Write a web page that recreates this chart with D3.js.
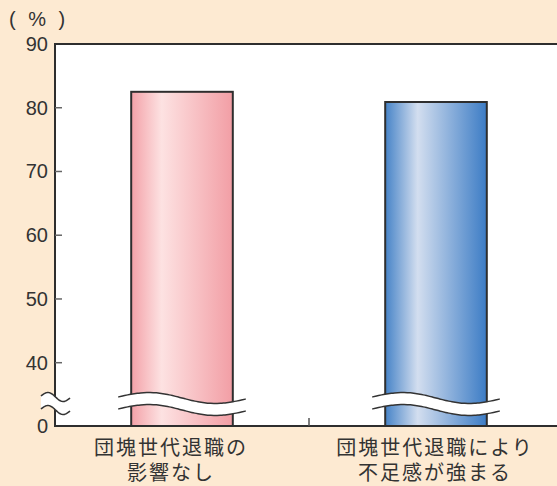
<!DOCTYPE html>
<html>
<head>
<meta charset="utf-8">
<script src="https://cdn.jsdelivr.net/npm/d3@7"></script>
<style>
  html, body { margin: 0; padding: 0; background: #fdead2; }
  svg { display: block; }
  text { font-family: "Liberation Sans", "Noto Sans CJK JP", sans-serif; fill: #333; }
  .cat { font-family: "Noto Sans CJK JP", sans-serif; }
</style>
</head>
<body>
<svg id="chart" width="557" height="486"></svg>
<script>
// Survey results (%), with an axis break between 0 and 40
const categories = ["団塊世代退職の\n影響なし", "団塊世代退職により\n不足感が強まる"];
const values = [82.5, 80.9];
const tickValues = [0, 40, 50, 60, 70, 80, 90];
const unitLabel = "( % )";

const svg = d3.select("#chart");
const W = 557, H = 486;
const plotLeft = 55, plotRight = 563, plotTop = 44, plotBottom = 426;

// Piecewise scale: 0 sits just below the break, 40–90 spread over the rest
const y = d3.scaleLinear().domain([0, 40, 90]).range([plotBottom, 362.7, plotTop]);
const x = d3.scaleBand().domain(d3.range(categories.length)).range([plotLeft, plotRight]).padding(0);
const barW = x.bandwidth() * 0.4;
const breakY = 403;

// Gradients for the cylinder-like bars
const defs = svg.append("defs");
const grads = [
  { id: "gPink", stops: [["0%", "#f3a1a8"], ["30%", "#fde2e2"], ["100%", "#f29ea5"]] },
  { id: "gBlue", stops: [["0%", "#4683c7"], ["32%", "#d3deef"], ["100%", "#3c7cc5"]] }
];
grads.forEach(g => {
  const lg = defs.append("linearGradient").attr("id", g.id).attr("x1", "0").attr("x2", "1").attr("y1", "0").attr("y2", "0");
  g.stops.forEach(s => lg.append("stop").attr("offset", s[0]).attr("stop-color", s[1]));
});

// Plot area
svg.append("rect").attr("x", plotLeft).attr("y", plotTop).attr("width", W - plotLeft).attr("height", plotBottom - plotTop).attr("fill", "#fff");

// Bars
svg.selectAll("rect.bar").data(values).join("rect")
  .attr("class", "bar")
  .attr("x", (d, i) => x(i) + (x.bandwidth() - barW) / 2)
  .attr("y", d => y(d))
  .attr("width", barW)
  .attr("height", d => plotBottom - y(d))
  .attr("fill", (d, i) => `url(#${grads[i].id})`)
  .attr("stroke", "#2e2e2e")
  .attr("stroke-width", 2);

// Wavy break band across each bar
function wave(x0, x1, cy, amp) {
  return d3.range(0, 41).map(k => {
    const t = k / 40;
    return [x0 + (x1 - x0) * t, cy - amp * Math.sin(2 * Math.PI * t) + 2 * t];
  });
}
values.forEach((d, i) => {
  const cx = x(i) + x.bandwidth() / 2;
  const x0 = cx - barW / 2 - 13, x1 = cx + barW / 2 + 13;
  const upper = wave(x0, x1, breakY - 6, 5);
  const lower = wave(x0, x1, breakY + 6, 5);
  const band = upper.concat(lower.slice().reverse());
  svg.append("path").attr("d", d3.line()(band) + "Z").attr("fill", "#fff");
  [upper, lower].forEach(p => svg.append("path").attr("d", d3.line().curve(d3.curveBasis)(p))
    .attr("fill", "none").attr("stroke", "#333").attr("stroke-width", 1.5));
});

// Axis lines
svg.append("line").attr("x1", plotLeft).attr("x2", W).attr("y1", plotTop).attr("y2", plotTop).attr("stroke", "#2e2e2e").attr("stroke-width", 2);
svg.append("line").attr("x1", plotLeft).attr("x2", W).attr("y1", plotBottom).attr("y2", plotBottom).attr("stroke", "#2e2e2e").attr("stroke-width", 2);
svg.append("line").attr("x1", plotLeft).attr("x2", plotLeft).attr("y1", plotTop - 1).attr("y2", plotBottom + 1).attr("stroke", "#2e2e2e").attr("stroke-width", 2);

// Y ticks (inward) and labels
tickValues.forEach(v => {
  if (v !== 0 && v !== 90) {
    svg.append("line").attr("x1", plotLeft).attr("x2", plotLeft + 7).attr("y1", y(v)).attr("y2", y(v))
      .attr("stroke", "#666").attr("stroke-width", 1.5);
  }
  svg.append("text").attr("x", 48).attr("y", y(v)).attr("dy", "0.35em")
    .attr("text-anchor", "end").attr("font-size", 20).text(v);
});

// Category divider tick
svg.append("line").attr("x1", x(1)).attr("x2", x(1)).attr("y1", plotBottom).attr("y2", plotBottom - 8)
  .attr("stroke", "#555").attr("stroke-width", 1.5);

// Y-axis break mark
const ax0 = 41, ax1 = 70;
const au = wave(ax0, ax1, breakY - 7, 4);
const al = wave(ax0, ax1, breakY + 6, 4);
svg.append("path").attr("d", d3.line()(au.concat(al.slice().reverse())) + "Z").attr("fill", "#fff");
[au, al].forEach(p => svg.append("path").attr("d", d3.line().curve(d3.curveBasis)(p))
  .attr("fill", "none").attr("stroke", "#333").attr("stroke-width", 1.5));

// Unit label
svg.append("text").attr("x", 9).attr("y", 26).attr("font-size", 20).attr("letter-spacing", 3.5)
  .style("white-space", "pre").text(unitLabel);

// Category labels (two lines each)
const labelShift = [-12, -2];
categories.forEach((c, i) => {
  const cx = x(i) + x.bandwidth() / 2 + labelShift[i];
  c.split("\n").forEach((line, j) => {
    svg.append("text").attr("class", "cat").attr("text-anchor", "middle")
      .attr("font-size", 20).attr("letter-spacing", 2)
      .attr("x", cx + 1).attr("y", 455 + j * 25).text(line);
  });
});
</script>
</body>
</html>
